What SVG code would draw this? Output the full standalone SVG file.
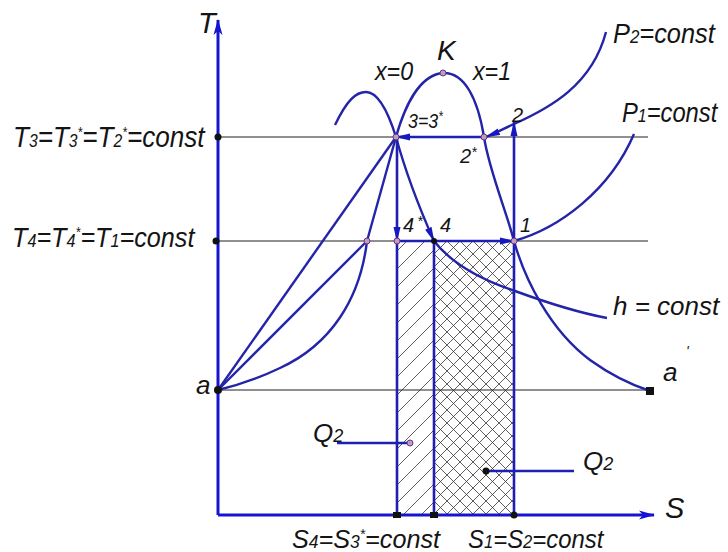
<svg xmlns="http://www.w3.org/2000/svg" width="728" height="552" viewBox="0 0 728 552">
<style>
.t{font-family:"Liberation Sans","DejaVu Sans",sans-serif;font-style:italic;fill:#141414}
.sb{font-size:18px}
.sp{font-size:14px}
.ax{stroke:#1414d2;stroke-width:3;fill:none}
.cv{stroke:#2424a8;stroke-width:2.4;fill:none}
.bl{stroke:#2020b0;stroke-width:2.6;fill:none}
.th{stroke:#222;stroke-width:1.2;fill:none}
.dot{fill:#111}
.pk{fill:#c89ab8;stroke:#5a3a8a;stroke-width:1}
</style>
<defs>
<marker id="ah" markerUnits="userSpaceOnUse" markerWidth="15" markerHeight="8" refX="14" refY="4" orient="auto"><path d="M0,0.5 L15,4 L0,7.5 z" fill="#1818c0"/></marker>
<marker id="axh" markerUnits="userSpaceOnUse" markerWidth="16" markerHeight="10" refX="15" refY="5" orient="auto"><path d="M0,0.5 L16,5 L0,9.5 L4,5 z" fill="#1414d2"/></marker>
<pattern id="hs" patternUnits="userSpaceOnUse" width="18" height="18"><path d="M-5,5 L5,-5 M0,18 L18,0 M13,23 L23,13" stroke="#333" stroke-width="0.8"/></pattern>
<pattern id="hx" patternUnits="userSpaceOnUse" width="13" height="13" x="434" y="241"><path d="M0,0 L13,13 M13,0 L0,13" stroke="#333" stroke-width="0.8"/></pattern>
</defs>

<g id="hatch">
<rect x="397" y="241" width="37" height="274" fill="url(#hs)"/>
<rect x="434" y="241" width="80" height="274" fill="url(#hx)"/>
</g>

<g id="grid">
<path class="th" d="M218,137 H648 M218,241 H648 M218,390 H650"/>
</g>

<g id="axes">
<path class="ax" d="M218,515 V20" marker-end="url(#axh)"/>
<path class="ax" d="M218,515 H654" marker-end="url(#axh)"/>
<text class="t" x="198" y="33" font-size="29">T</text>
<text class="t" x="665" y="518" font-size="29">S</text>
</g>

<g id="connectors">
<path class="cv" d="M335,125 C347,100 356,92 366,92 C380,92 390,118 396,137"/>
<path class="cv" d="M396,137 C405,105 420,75 443,73 C465,72 478,100 484,137 C489,170 506,210 514,241 C525,280 550,330 590,360 C615,378 635,386 650,391"/>
<path class="cv" d="M396,137 L367,241"/>
<path class="cv" d="M367,241 C360,300 330,345 280,368 C255,380 235,386 218,390"/>
<path class="cv" d="M218,390 L367,241"/>
<path class="cv" d="M218,390 L396,137"/>
<path class="cv" d="M396,137 C405,170 418,205 434,241" marker-end="url(#ah)"/>
<path class="cv" d="M434,241 C455,268 488,282 515,291 C545,302 575,312 607,318"/>
<path class="cv" d="M514,241 C560,228 610,190 634,134"/>
<path class="cv" d="M606,32 C592,85 550,108 514,124 C505,128 496,133 486,137" marker-end="url(#ah)"/>
<path class="bl" d="M484,137 H396" marker-end="url(#ah)"/>
<path class="bl" d="M397,137 V241" marker-end="url(#ah)"/>
<path class="bl" d="M397,241 V515"/>
<path class="bl" d="M434,241 V515"/>
<path class="bl" d="M397,241 H514" marker-end="url(#ah)"/>
<path class="bl" d="M514,515 V122" marker-end="url(#ah)"/>
<path class="bl" d="M337,443 H410" stroke-width="2"/>
<path class="bl" d="M486,471 H574" stroke-width="2"/>
</g>

<g id="T3">
<circle class="dot" cx="218" cy="137" r="3.5"/>
<text class="t" transform="translate(13,147) scale(0.87,1)" font-size="30">T<tspan class="sb">3</tspan>=T<tspan class="sb">3</tspan><tspan class="sp" dy="-10">*</tspan><tspan dy="10">=T</tspan><tspan class="sb">2</tspan><tspan class="sp" dy="-10">*</tspan><tspan dy="10">=const</tspan></text>
</g>
<g id="T4">
<circle class="dot" cx="216" cy="241" r="3.5"/>
<text class="t" transform="translate(12,247) scale(0.9,1)" font-size="28">T<tspan class="sb">4</tspan>=T<tspan class="sb">4</tspan><tspan class="sp" dy="-10">*</tspan><tspan dy="10">=T</tspan><tspan class="sb">1</tspan>=const</text>
</g>
<g id="a">
<circle class="dot" cx="218" cy="390" r="4"/>
<text class="t" x="196" y="394" font-size="26">a</text>
</g>
<g id="a-prime">
<rect class="dot" x="646" y="387" width="8" height="8"/>
<text class="t" x="663" y="381" font-size="26">a</text>
<text class="t" x="686" y="356" font-size="14">'</text>
</g>
<g id="K">
<circle class="pk" cx="443" cy="73" r="3"/>
<text class="t" x="437" y="60" font-size="28">K</text>
</g>
<g id="x0"><text class="t" transform="translate(375,80) scale(0.93,1)" font-size="25">x=0</text></g>
<g id="x1"><text class="t" transform="translate(473,80) scale(0.93,1)" font-size="25">x=1</text></g>
<g id="p3">
<circle class="pk" cx="396" cy="137" r="3"/>
<text class="t" transform="translate(408,128) scale(0.85,1)" font-size="21">3=3<tspan class="sp" dy="-7">*</tspan></text>
</g>
<g id="p2s">
<circle class="pk" cx="484" cy="137" r="3"/>
<text class="t" x="460" y="163" font-size="20">2<tspan class="sp" dy="-6">*</tspan></text>
</g>
<g id="p2">
<text class="t" x="512" y="122" font-size="20">2</text>
</g>
<g id="p1">
<circle class="pk" cx="514" cy="241" r="3"/>
<text class="t" x="520" y="232" font-size="20">1</text>
</g>
<g id="p4s">
<circle class="pk" cx="397" cy="241" r="3"/>
<text class="t" x="403" y="232" font-size="20">4<tspan class="sp" dx="3" dy="-6">*</tspan></text>
</g>
<g id="p4">
<circle class="dot" cx="434" cy="241" r="3"/>
<text class="t" x="440" y="232" font-size="20">4</text>
</g>
<g id="pL"><circle class="pk" cx="367" cy="241" r="3"/></g>
<g id="P2">
<text class="t" transform="translate(613,43) scale(0.94,1)" font-size="27">P<tspan class="sb">2</tspan>=const</text>
</g>
<g id="P1">
<text class="t" transform="translate(622,122) scale(0.88,1)" font-size="27">P<tspan class="sb">1</tspan>=const</text>
</g>
<g id="h">
<text class="t" x="613" y="315" font-size="26">h = const</text>
</g>
<g id="Q2-left">
<circle class="pk" cx="410" cy="443" r="3"/>
<text class="t" x="313" y="442" font-size="26">Q<tspan class="sb">2</tspan></text>
</g>
<g id="Q2-right">
<circle class="dot" cx="486" cy="471" r="3.5"/>
<text class="t" x="583" y="470" font-size="26">Q<tspan class="sb">2</tspan></text>
</g>
<g id="S-ticks">
<rect class="dot" x="393" y="512" width="8" height="6"/>
<rect class="dot" x="430" y="512" width="8" height="6"/>
<circle class="dot" cx="514" cy="515" r="3.5"/>
<text class="t" transform="translate(292,548) scale(0.97,1)" font-size="26">S<tspan class="sb">4</tspan>=S<tspan class="sb">3</tspan><tspan class="sp" dy="-9">*</tspan><tspan dy="9">=const</tspan></text>
<text class="t" transform="translate(468,548) scale(0.92,1)" font-size="26">S<tspan class="sb">1</tspan>=S<tspan class="sb">2</tspan>=const</text>
</g>
</svg>
